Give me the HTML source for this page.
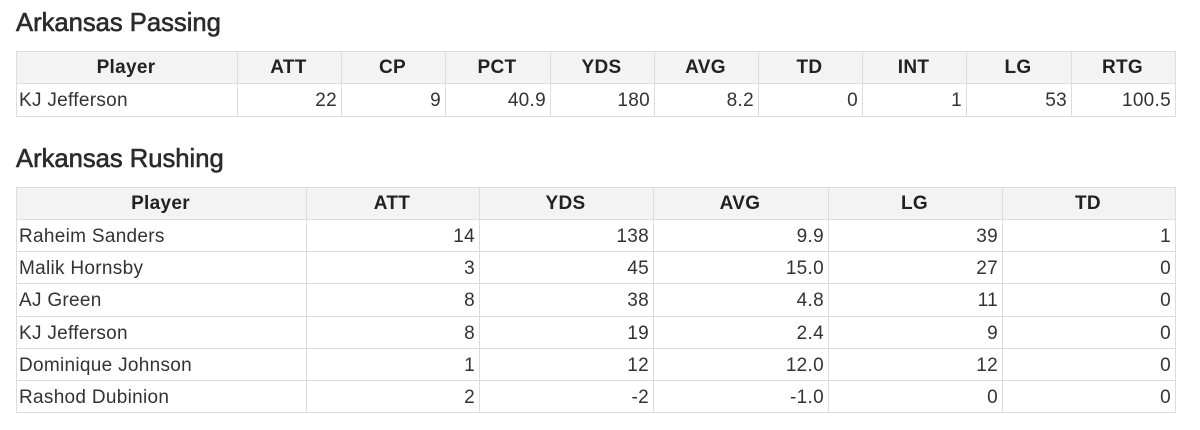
<!DOCTYPE html>
<html><head><meta charset="utf-8">
<style>
html,body{margin:0;padding:0;background:#fff;width:1200px;height:430px;overflow:hidden;}
body{position:relative;font-family:"Liberation Sans",Arial,sans-serif;color:#333;}
.t{position:absolute;left:16px;font-size:25.6px;line-height:24px;color:#2b2b2b;-webkit-text-stroke:0.6px #2b2b2b;white-space:nowrap;}
.tb{position:absolute;left:16px;width:1160px;background:#dcdcdc;}
.r{position:absolute;left:0;width:1160px;}
.r div{position:absolute;top:0;height:100%;background:#fff;box-sizing:border-box;padding:2px 4px 0 2px;font-size:19px;letter-spacing:0.3px;white-space:nowrap;text-align:right;display:flex;align-items:center;justify-content:flex-end;}
.r div:first-child{justify-content:flex-start;text-align:left;}
.r.h div{background:#f3f3f3;font-weight:bold;color:#222;justify-content:center;text-align:center;padding-top:1px;}
.p div:nth-child(1){left:1px;width:220px}
.p div:nth-child(2){left:222px;width:103px}
.p div:nth-child(3){left:326px;width:103px}
.p div:nth-child(4){left:430px;width:104px}
.p div:nth-child(5){left:535px;width:103px}
.p div:nth-child(6){left:639px;width:103px}
.p div:nth-child(7){left:743px;width:103px}
.p div:nth-child(8){left:847px;width:103px}
.p div:nth-child(9){left:951px;width:104px}
.p div:nth-child(10){left:1056px;width:103px}
.q div:nth-child(1){left:1px;width:289px}
.q div:nth-child(2){left:291px;width:172px}
.q div:nth-child(3){left:464px;width:173px}
.q div:nth-child(4){left:638px;width:174px}
.q div:nth-child(5){left:813px;width:173px}
.q div:nth-child(6){left:987px;width:172px}
</style></head>
<body>
<div class="t" style="top:11px">Arkansas Passing</div>
<div class="tb" style="top:51px;height:66px">
  <div class="r p h" style="top:1px;height:31px"><div>Player</div><div>ATT</div><div>CP</div><div>PCT</div><div>YDS</div><div>AVG</div><div>TD</div><div>INT</div><div>LG</div><div>RTG</div></div>
  <div class="r p" style="top:33px;height:32px"><div>KJ Jefferson</div><div>22</div><div>9</div><div>40.9</div><div>180</div><div>8.2</div><div>0</div><div>1</div><div>53</div><div>100.5</div></div>
</div>

<div class="t" style="top:147px">Arkansas Rushing</div>
<div class="tb" style="top:187px;height:226px">
  <div class="r q h" style="top:1px;height:31px"><div>Player</div><div>ATT</div><div>YDS</div><div>AVG</div><div>LG</div><div>TD</div></div>
  <div class="r q" style="top:33px;height:31px"><div>Raheim Sanders</div><div>14</div><div>138</div><div>9.9</div><div>39</div><div>1</div></div>
  <div class="r q" style="top:65px;height:31px"><div>Malik Hornsby</div><div>3</div><div>45</div><div>15.0</div><div>27</div><div>0</div></div>
  <div class="r q" style="top:97px;height:32px"><div>AJ Green</div><div>8</div><div>38</div><div>4.8</div><div>11</div><div>0</div></div>
  <div class="r q" style="top:130px;height:31px"><div>KJ Jefferson</div><div>8</div><div>19</div><div>2.4</div><div>9</div><div>0</div></div>
  <div class="r q" style="top:162px;height:31px"><div>Dominique Johnson</div><div>1</div><div>12</div><div>12.0</div><div>12</div><div>0</div></div>
  <div class="r q" style="top:194px;height:31px"><div>Rashod Dubinion</div><div>2</div><div>-2</div><div>-1.0</div><div>0</div><div>0</div></div>
</div>
</body></html>
